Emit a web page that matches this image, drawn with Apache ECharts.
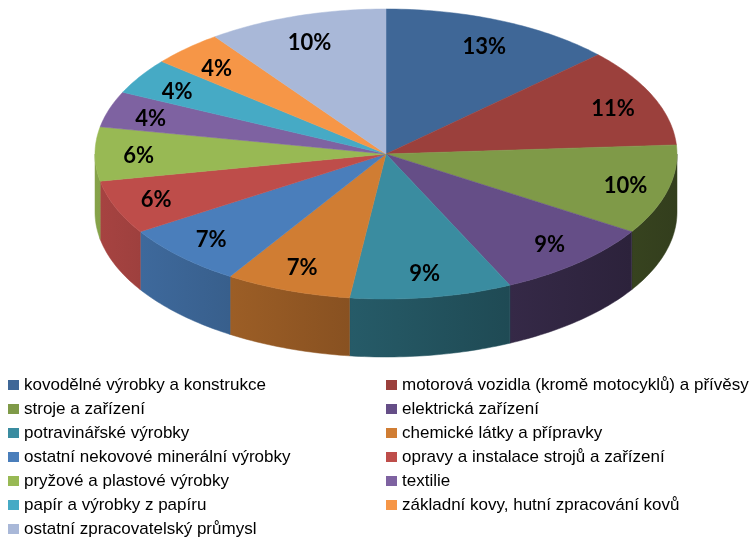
<!DOCTYPE html>
<html>
<head>
<meta charset="utf-8">
<script src="https://cdn.jsdelivr.net/npm/echarts@6/dist/echarts.min.js"></script>
<style>
  html, body { margin: 0; padding: 0; background: #fff; }
  #chart { width: 754px; height: 538px; }
</style>
</head>
<body>
<div id="chart"></div>
<script>
// categories in slice order (clockwise from 12 o'clock)
const categories = [
  'kovodělné výrobky a konstrukce',
  'motorová vozidla (kromě motocyklů) a přívěsy',
  'stroje a zařízení',
  'elektrická zařízení',
  'potravinářské výrobky',
  'chemické látky a přípravky',
  'ostatní nekovové minerální výrobky',
  'opravy a instalace strojů a zařízení',
  'pryžové a plastové výrobky',
  'textilie',
  'papír a výrobky z papíru',
  'základní kovy, hutní zpracování kovů',
  'ostatní zpracovatelský průmysl'
];
const shares = [13, 11, 10, 9, 9, 7, 7, 6, 6, 4, 4, 4, 10];
const colors = ['#3F6797', '#9B403C', '#7F9A48', '#654E87', '#3A8CA0', '#D07D33',
  '#4A7EBB', '#BE4D4A', '#98B954', '#7E62A1', '#46AAC5', '#F69647', '#A9B8D8'];

// pie geometry (tilted disc)
const cx = 386, cy = 154, rx = 291, ry = 145, depth = 58;

const total = shares.reduce((a, b) => a + b, 0);
const starts = [];
let acc = 0;
shares.forEach(v => { starts.push(acc); acc += v; });

function rim(t, drop) {
  return [cx + rx * Math.sin(t), cy - ry * Math.cos(t) + (drop || 0)];
}
function arc(a, b, drop) {
  const pts = [];
  const n = Math.max(2, Math.ceil(Math.abs(b - a) / (Math.PI / 180)));
  for (let k = 0; k <= n; k++) pts.push(rim(a + (b - a) * k / n, drop));
  return pts;
}
function shade(hex, f) {
  const n = parseInt(hex.slice(1), 16);
  const r = Math.round(((n >> 16) & 255) * f);
  const g = Math.round(((n >> 8) & 255) * f);
  const b = Math.round((n & 255) * f);
  return 'rgb(' + r + ',' + g + ',' + b + ')';
}
function light(x) {
  const t = Math.min(1, Math.max(0, (x - 95) / 582));
  return 0.88 - 0.48 * Math.pow(t, 0.9);
}

function renderSlice(params, api) {
  const i = params.seriesIndex;
  const v = api.value(0);
  const t0 = starts[i] / total * Math.PI * 2;
  const t1 = (starts[i] + v) / total * Math.PI * 2;
  const col = colors[i];
  const children = [];

  // side wall on the front half
  const a = Math.max(t0, Math.PI / 2), b = Math.min(t1, Math.PI * 1.5);
  if (a < b) {
    const pts = arc(a, b, 0).concat(arc(b, a, depth));
    const xl = rim(b)[0], xr = rim(a)[0];
    children.push({
      type: 'polygon',
      shape: { points: pts },
      style: {
        fill: {
          type: 'linear', global: true, x: xl, y: 0, x2: xr, y2: 0,
          colorStops: [
            { offset: 0, color: shade(col, light(xl)) },
            { offset: 1, color: shade(col, light(xr)) }
          ]
        },
        stroke: shade(col, light((xl + xr) / 2)), lineWidth: 0.5
      }
    });
  }

  // top face
  children.push({
    type: 'polygon',
    shape: { points: [[cx, cy]].concat(arc(t0, t1, 0)) },
    style: { fill: col, stroke: col, lineWidth: 0.5 }
  });

  // percentage label
  const tm = (t0 + t1) / 2;
  children.push({
    type: 'text',
    style: {
      text: Math.round(v / total * 100) + '%',
      x: cx + rx * 0.85 * Math.sin(tm),
      y: cy + 2 - ry * 0.82 * Math.cos(tm),
      align: 'center', verticalAlign: 'middle',
      fontFamily: 'Lato, "Open Sans", sans-serif', fontWeight: 'bold', fontSize: 22,
      fill: '#000'
    }
  });
  return { type: 'group', children: children };
}

const chart = echarts.init(document.getElementById('chart'));

const legendBase = {
  orient: 'vertical',
  top: 376,
  height: 180,
  padding: 0,
  icon: 'rect',
  itemWidth: 11,
  itemHeight: 10,
  itemGap: 6,
  selectedMode: false,
  textStyle: {
    fontFamily: '"Liberation Sans", Arial, sans-serif',
    fontSize: 17, lineHeight: 18, color: '#000'
  }
};

chart.setOption({
  animation: false,
  legend: [
    Object.assign({}, legendBase, { left: 8, data: categories.filter((c, k) => k % 2 === 0) }),
    Object.assign({}, legendBase, { left: 386, data: categories.filter((c, k) => k % 2 === 1) })
  ],
  series: categories.map((name, i) => ({
    type: 'custom',
    name: name,
    coordinateSystem: 'none',
    silent: true,
    itemStyle: { color: colors[i] },
    renderItem: renderSlice,
    data: [[shares[i]]]
  }))
});
</script>
</body>
</html>
